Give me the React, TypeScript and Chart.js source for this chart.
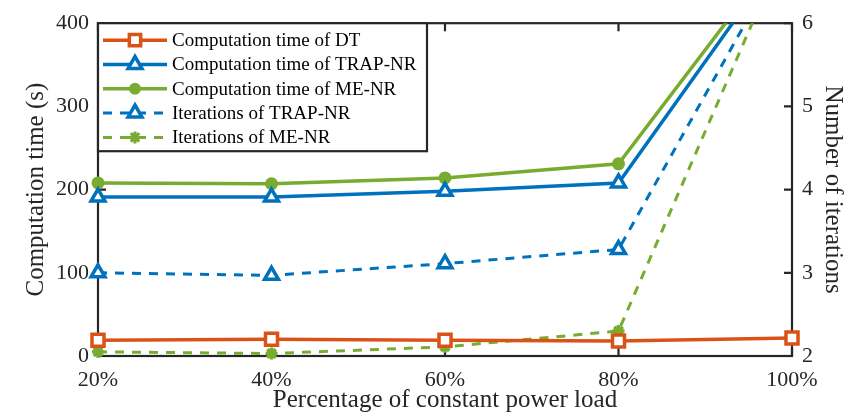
import React, { useEffect, useRef } from "react";
import { Chart, registerables } from "chart.js";

Chart.register(...registerables);

const categories = ["20%", "40%", "60%", "80%", "100%"];
const dtTime = [19, 20, 19, 18, 21.5];
const trapTime = [191, 191, 198, 208, 500];
const meTime = [208, 207, 214, 231, 505];
const trapIter = [3.0, 2.97, 3.11, 3.28, 7.0];
const meIter = [2.05, 2.03, 2.11, 2.3, 7.1];

const seriesNames = [
  "Computation time of DT",
  "Computation time of TRAP-NR",
  "Computation time of ME-NR",
  "Iterations of TRAP-NR",
  "Iterations of ME-NR",
];
const xTitle = "Percentage of constant power load";
const yTitle = "Computation time (s)";
const y1Title = "Number of iterations";

const ORANGE = "#D95319";
const BLUE = "#0072BD";
const GREEN = "#77AC30";
const AXIS = "#262626";
const FONT = "'Liberation Serif', 'Times New Roman', serif";
const DASH = [9, 8];

type Mk = "rect" | "triangle" | "circle" | "star";

function drawMarker(ctx: CanvasRenderingContext2D, kind: Mk, x: number, y: number, r: number, color: string) {
  ctx.save();
  ctx.strokeStyle = color;
  ctx.fillStyle = color;
  ctx.lineWidth = 3.5;
  ctx.setLineDash([]);
  ctx.beginPath();
  if (kind === "rect") {
    const s = Math.SQRT1_2 * r;
    ctx.fillStyle = "#fff";
    ctx.rect(x - s, y - s, 2 * s, 2 * s);
    ctx.fill();
    ctx.stroke();
  } else if (kind === "triangle") {
    ctx.moveTo(x - Math.sin(Math.PI / 3) * r, y + r / 2);
    ctx.lineTo(x, y - r);
    ctx.lineTo(x + Math.sin(Math.PI / 3) * r, y + r / 2);
    ctx.closePath();
    ctx.fillStyle = "#fff";
    ctx.fill();
    ctx.stroke();
  } else if (kind === "circle") {
    ctx.arc(x, y, r, 0, Math.PI * 2);
    ctx.fill();
  } else {
    ctx.lineWidth = 3;
    for (let a = 0; a < 4; a++) {
      const ang = (a * Math.PI) / 4;
      ctx.moveTo(x - Math.cos(ang) * r, y - Math.sin(ang) * r);
      ctx.lineTo(x + Math.cos(ang) * r, y + Math.sin(ang) * r);
    }
    ctx.stroke();
  }
  ctx.restore();
}

const legendItems: { color: string; dash: number[]; marker: Mk; width: number }[] = [
  { color: ORANGE, dash: [], marker: "rect", width: 3.5 },
  { color: BLUE, dash: [], marker: "triangle", width: 3.5 },
  { color: GREEN, dash: [], marker: "circle", width: 3.5 },
  { color: BLUE, dash: DASH, marker: "triangle", width: 3 },
  { color: GREEN, dash: DASH, marker: "star", width: 3 },
];

const framePlugin = {
  id: "frame",
  beforeDatasetsDraw(chart: any) {
    const { ctx, chartArea, scales } = chart;
    const { left, right, top, bottom } = chartArea;
    ctx.save();
    ctx.strokeStyle = AXIS;
    ctx.lineWidth = 2.2;
    ctx.strokeRect(left, top, right - left, bottom - top);
    const L = 8;
    ctx.beginPath();
    scales.x.ticks.forEach((_: any, i: number) => {
      const x = scales.x.getPixelForTick(i);
      ctx.moveTo(x, bottom);
      ctx.lineTo(x, bottom - L);
      ctx.moveTo(x, top);
      ctx.lineTo(x, top + L);
    });
    scales.y.ticks.forEach((_: any, i: number) => {
      const y = scales.y.getPixelForTick(i);
      ctx.moveTo(left, y);
      ctx.lineTo(left + L, y);
    });
    scales.y1.ticks.forEach((_: any, i: number) => {
      const y = scales.y1.getPixelForTick(i);
      ctx.moveTo(right, y);
      ctx.lineTo(right - L, y);
    });
    ctx.stroke();
    ctx.restore();
  },
};

const legendPlugin = {
  id: "boxLegend",
  afterDraw(chart: any) {
    const { ctx, chartArea } = chart;
    const x0 = chartArea.left;
    const y0 = chartArea.top;
    const w = 329;
    const h = 128;
    ctx.save();
    ctx.fillStyle = "#fff";
    ctx.fillRect(x0, y0, w, h);
    ctx.strokeStyle = AXIS;
    ctx.lineWidth = 2.2;
    ctx.strokeRect(x0, y0, w, h);
    ctx.font = `19px ${FONT}`;
    ctx.textBaseline = "middle";
    ctx.textAlign = "left";
    legendItems.forEach((it, i) => {
      const y = y0 + 17 + i * 24.3;
      ctx.save();
      ctx.strokeStyle = it.color;
      ctx.lineWidth = it.width;
      ctx.setLineDash(it.dash);
      ctx.beginPath();
      ctx.moveTo(x0 + 5, y);
      ctx.lineTo(x0 + 69, y);
      ctx.stroke();
      ctx.restore();
      const r = it.marker === "circle" ? 6 : it.marker === "star" ? 6 : 8;
      drawMarker(ctx, it.marker, x0 + 37, y, r, it.color);
      ctx.fillStyle = "#000";
      ctx.fillText(seriesNames[i], x0 + 74, y + 1);
    });
    ctx.restore();
  },
};

export default function App() {
  const ref = useRef<HTMLCanvasElement | null>(null);
  useEffect(() => {
    if (!ref.current) return;
    const clipAxes = { left: 12, top: 0, right: 0, bottom: 12 };
    const chart = new Chart(ref.current, {
      type: "line",
      data: {
        labels: categories,
        datasets: [
          {
            label: seriesNames[0],
            data: dtTime,
            yAxisID: "y",
            borderColor: ORANGE,
            backgroundColor: "#fff",
            borderWidth: 3.5,
            pointStyle: "rect",
            pointRadius: 8.5,
            pointBorderWidth: 3.5,
            pointBorderColor: ORANGE,
            pointBackgroundColor: "#fff",
            clip: false as any,
          },
          {
            label: seriesNames[1],
            data: trapTime,
            yAxisID: "y",
            borderColor: BLUE,
            borderWidth: 3.5,
            pointStyle: "triangle",
            pointRadius: 8,
            pointBorderWidth: 3.5,
            pointBorderColor: BLUE,
            pointBackgroundColor: "#fff",
            clip: clipAxes as any,
          },
          {
            label: seriesNames[2],
            data: meTime,
            yAxisID: "y",
            borderColor: GREEN,
            borderWidth: 3.5,
            pointStyle: "circle",
            pointRadius: 6.5,
            pointBorderWidth: 0,
            pointBackgroundColor: GREEN,
            clip: clipAxes as any,
          },
          {
            label: seriesNames[3],
            data: trapIter,
            yAxisID: "y1",
            borderColor: BLUE,
            borderWidth: 3,
            borderDash: DASH,
            pointStyle: "triangle",
            pointRadius: 8,
            pointBorderWidth: 3.5,
            pointBorderColor: BLUE,
            pointBackgroundColor: "#fff",
            clip: clipAxes as any,
          },
          {
            label: seriesNames[4],
            data: meIter,
            yAxisID: "y1",
            borderColor: GREEN,
            borderWidth: 3,
            borderDash: DASH,
            pointStyle: "star",
            pointRadius: 6,
            pointBorderWidth: 3.5,
            pointBorderColor: GREEN,
            pointBackgroundColor: GREEN,
            clip: clipAxes as any,
          },
        ],
      },
      options: {
        animation: false,
        responsive: true,
        maintainAspectRatio: false,
        layout: { padding: { top: 21, left: 0, right: 0, bottom: 0 } },
        plugins: { legend: { display: false }, tooltip: { enabled: false } },
        elements: { line: { tension: 0 } },
        scales: {
          x: {
            offset: false,
            grid: { display: false, drawTicks: false },
            border: { display: false },
            ticks: {
              autoSkip: false,
              maxRotation: 0,
              padding: 11,
              color: AXIS,
              font: { family: FONT, size: 22 },
            },
            title: {
              display: true,
              text: xTitle,
              color: AXIS,
              font: { family: FONT, size: 25, lineHeight: 1 },
              padding: { top: 0, bottom: 1.5 },
            },
            afterFit(s: any) {
              s.height = 58;
            },
          },
          y: {
            position: "left",
            min: 0,
            max: 400,
            grid: { display: false, drawTicks: false },
            border: { display: false },
            ticks: {
              stepSize: 100,
              padding: 9,
              color: AXIS,
              font: { family: FONT, size: 22 },
            },
            title: {
              display: true,
              text: yTitle,
              color: AXIS,
              font: { family: FONT, size: 25, lineHeight: 1 },
              padding: { top: 24, bottom: 0 },
            },
            afterFit(s: any) {
              s.width = 98;
            },
          },
          y1: {
            position: "right",
            min: 2,
            max: 6,
            grid: { display: false, drawTicks: false },
            border: { display: false },
            ticks: {
              stepSize: 1,
              padding: 10,
              color: AXIS,
              font: { family: FONT, size: 22 },
            },
            title: {
              display: true,
              text: y1Title,
              color: AXIS,
              font: { family: FONT, size: 25, lineHeight: 1 },
              padding: { top: 0, bottom: 0 },
            },
            afterFit(s: any) {
              s.width = 53;
            },
          },
        },
      },
      plugins: [framePlugin, legendPlugin],
    });
    return () => chart.destroy();
  }, []);
  return (
    <div style={{ position: "absolute", left: 0, top: 0, width: 845, height: 414, background: "#fff" }}>
      <canvas ref={ref} />
    </div>
  );
}
